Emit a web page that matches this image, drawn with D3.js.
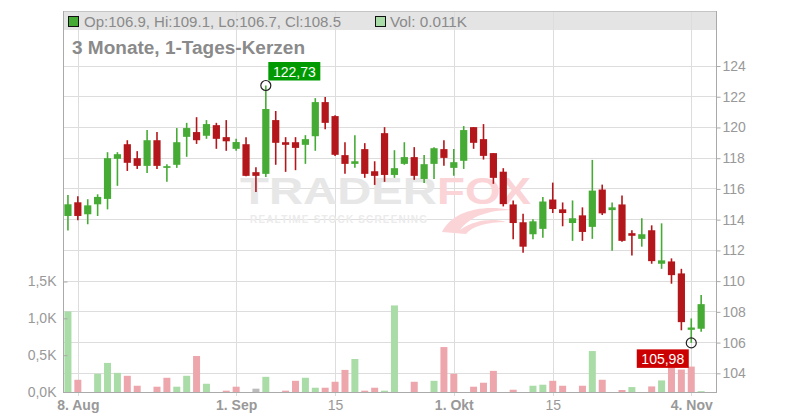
<!DOCTYPE html>
<html><head><meta charset="utf-8">
<script src="https://cdn.jsdelivr.net/npm/d3@7"></script>
<style>body{margin:0;background:#fff;} text{font-family:"Liberation Sans",Arial,sans-serif;}</style>
</head><body><svg id="c" width="800" height="420"></svg>
<script>
const opens  = [114.24,115.13,114.35,115.0,115.35,117.96,118.91,118.0,117.5,119.17,117.37,117.57,119.39,119.7,119.46,120.15,119.37,118.61,118.91,117.09,116.98,120.48,119.04,119.04,118.87,119.43,121.65,120.74,118.2,117.63,118.59,117.15,119.63,116.91,117.63,118.07,116.65,117.63,118.59,117.37,117.83,120.02,119.24,118.33,117.12,114.99,113.83,113.05,113.4,115.31,114.67,113.78,114.28,113.53,115.96,114.62,114.99,113.12,112.75,113.31,111.13,111.28,110.5,106.83,106.9];
const highs  = [115.6,115.52,115.33,115.65,118.39,118.39,119.17,118.46,119.83,119.7,117.61,119.96,120.3,120.67,120.48,120.3,120.48,119.26,119.37,117.41,122.73,121.07,119.37,119.37,119.5,121.91,121.98,120.8,119.04,119.5,118.98,117.8,120.02,118.52,119.04,118.72,118.2,118.72,119.17,118.59,120.09,120.02,120.22,118.33,117.35,115.25,114.39,114.02,115.48,116.41,115.12,115.25,114.8,117.89,116.28,115.12,115.57,113.31,114.09,113.63,113.76,111.48,110.8,107.57,109.1];
const lows   = [113.3,113.96,113.7,114.24,114.67,116.2,117.17,117.3,117.04,117.3,116.46,117.37,118.09,118.93,119.26,118.61,118.48,118.48,116.83,115.8,116.78,117.57,117.11,117.22,117.63,118.48,119.89,118.15,116.98,117.37,116.72,116.26,116.46,116.72,117.57,116.59,116.39,116.65,117.5,116.85,117.3,118.61,117.91,116.33,114.86,112.73,111.85,112.73,112.82,114.43,113.57,112.62,112.62,112.75,114.3,111.98,112.56,111.66,112.24,111.13,110.8,109.83,106.8,105.98,106.7];
const closes = [115.0,114.24,114.93,115.48,118.0,118.26,117.7,117.5,119.17,117.5,117.48,119.04,119.96,119.17,120.22,119.26,119.1,119.05,116.85,116.85,121.2,119.0,118.87,118.67,119.24,121.65,120.3,118.22,117.63,117.8,116.98,116.85,116.91,117.35,118.07,116.85,117.61,118.65,118.02,117.74,119.83,119.0,118.15,116.72,115.01,113.78,112.24,113.89,115.18,114.69,114.43,114.09,113.2,115.89,114.41,114.8,112.62,112.95,113.05,111.3,111.35,110.39,107.33,106.98,108.5];
const volumes = [1.094,0.166,0,0.247,0.395,0.26,0.22,0.085,0,0.072,0.193,0.072,0.22,0.489,0.112,0,0.018,0.072,0,0.045,0.206,0,0.018,0.152,0.193,0.058,0.058,0.139,0.30,0.448,0.018,0.058,0.018,1.175,0,0.139,0,0.152,0.61,0.247,0,0.072,0.126,0.287,0,0.031,0,0.085,0.099,0.152,0.085,0,0.085,0.556,0.166,0,0.027,0.067,0,0.076,0.157,0.38,0.305,0.345,0.011];
const tickIdx = [1,17,27,39,49,63];
const tickLabels = ["8. Aug","1. Sep","15","1. Okt","15","4. Nov"];
const tickBold = [true,true,false,true,false,true];
const priceTicks = [104,106,108,110,112,114,116,118,120,122,124];
const volTicks = [0,0.5,1.0,1.5];
const volTickLabels = ["0,0K","0,5K","1,0K","1,5K"];
const title = "3 Monate, 1-Tages-Kerzen";

const svg = d3.select("#c");
const L = 63, R = 716, T = 11, B = 392;
const x = d3.scaleLinear().domain([-0.5, 65.5]).range([L, R]);
const y = d3.scaleLinear().domain([104, 124]).range([373.3, 66]);
const yv = d3.scaleLinear().domain([0, 1.5]).range([B, 281.5]);
const GREEN = "#46ab35", RED = "#b3171b";
const VGREEN = "#aadca8", VRED = "#eea6ad", VGREY = "#bbbbbb";
const grid = "#dddddd", axisC = "#aaaaaa", txtC = "#999999";

// header background
svg.append("rect").attr("x", L).attr("y", T).attr("width", R - L).attr("height", 19).attr("fill", "#e4e4e4");

// grid
svg.append("g").selectAll("line").data(priceTicks).join("line")
  .attr("x1", L).attr("x2", R).attr("y1", d => y(d)).attr("y2", d => y(d))
  .attr("stroke", grid).attr("stroke-width", 1).attr("shape-rendering", "crispEdges");
svg.append("g").selectAll("line").data(tickIdx).join("line")
  .attr("x1", d => Math.round(x(d)) + 0.5).attr("x2", d => Math.round(x(d)) + 0.5)
  .attr("y1", T).attr("y2", B + 4)
  .attr("stroke", grid).attr("stroke-width", 1);

// watermark
const wm = svg.append("g");
wm.append("text").attr("x", 240).attr("y", 204).text("TRADER")
  .attr("font-size", 37).attr("font-weight", "bold").attr("fill", "#e7e7e7")
  .attr("textLength", 197).attr("lengthAdjust", "spacingAndGlyphs");
wm.append("text").attr("x", 437).attr("y", 204).text("FOX")
  .attr("font-size", 37).attr("font-weight", "bold").attr("fill", "#fbd4d7")
  .attr("textLength", 94).attr("lengthAdjust", "spacingAndGlyphs");
wm.append("text").attr("x", 250).attr("y", 223).text("REALTIME STOCK SCREENING")
  .attr("font-size", 10).attr("font-weight", "bold").attr("fill", "#ebebeb")
  .attr("textLength", 177).attr("lengthAdjust", "spacing");
wm.append("path").attr("d", "M442,232 C452,212 480,204 512,210 C490,210 470,216 460,230 C474,220 492,218 506,222 C488,222 472,226 466,234 Z")
  .attr("fill", "#fbd4d7");

// volume bars
const vg = svg.append("g");
vg.selectAll("rect").data(volumes).join("rect")
  .attr("x", (d, i) => x(i) - 3.5).attr("width", 7)
  .attr("y", d => yv(d)).attr("height", d => B - yv(d))
  .attr("fill", (d, i) => i === 0 ? VGREEN : (closes[i] > closes[i - 1] ? VGREEN : closes[i] < closes[i - 1] ? VRED : VGREY));

// candles
const cg = svg.append("g");
const idx = d3.range(closes.length);
cg.selectAll("line").data(idx).join("line")
  .attr("x1", i => x(i)).attr("x2", i => x(i))
  .attr("y1", i => y(highs[i])).attr("y2", i => y(lows[i]))
  .attr("stroke", i => closes[i] >= opens[i] ? GREEN : RED).attr("stroke-width", 1.6);
cg.selectAll("rect").data(idx).join("rect")
  .attr("x", i => x(i) - 3.6).attr("width", 7.2)
  .attr("y", i => y(Math.max(opens[i], closes[i])))
  .attr("height", i => Math.max(1.5, Math.abs(y(opens[i]) - y(closes[i]))))
  .attr("fill", i => closes[i] >= opens[i] ? GREEN : RED);

// frame / axes
svg.append("line").attr("x1", L).attr("x2", R).attr("y1", T + 0.5).attr("y2", T + 0.5).attr("stroke", "#c4c4c4");
svg.append("line").attr("x1", L + 0.5).attr("x2", L + 0.5).attr("y1", T).attr("y2", B).attr("stroke", axisC);
svg.append("line").attr("x1", R + 0.5).attr("x2", R + 0.5).attr("y1", T).attr("y2", B).attr("stroke", axisC);
svg.append("line").attr("x1", L).attr("x2", R + 1).attr("y1", B + 0.5).attr("y2", B + 0.5).attr("stroke", axisC);

// right price axis
const ra = svg.append("g").attr("transform", `translate(${R + 0.5},0)`)
  .call(d3.axisRight(y).tickValues(priceTicks).tickSize(4).tickPadding(2).tickFormat(d3.format("d")));
ra.select(".domain").remove();
ra.selectAll("line").attr("stroke", axisC);
ra.selectAll("text").attr("fill", txtC).attr("font-size", 14).attr("font-family", "Liberation Sans, Arial, sans-serif");

// left volume axis
const la = svg.append("g").attr("transform", `translate(${L + 0.5},0)`)
  .call(d3.axisLeft(yv).tickValues(volTicks).tickSize(-4).tickPadding(7).tickFormat((d, i) => volTickLabels[i]));
la.select(".domain").remove();
la.selectAll("line").attr("stroke", axisC);
la.selectAll("text").attr("fill", txtC).attr("font-size", 14).attr("font-family", "Liberation Sans, Arial, sans-serif");

// x axis
const xa = svg.append("g").attr("transform", `translate(0,${B})`)
  .call(d3.axisBottom(x).tickValues(tickIdx).tickSize(0).tickPadding(8).tickFormat((d, i) => tickLabels[i]));
xa.select(".domain").remove();
xa.selectAll("text").attr("fill", txtC).attr("font-size", 14)
  .attr("font-weight", (d, i) => tickBold[i] ? "bold" : "normal")
  .attr("font-family", "Liberation Sans, Arial, sans-serif");

// title
svg.append("text").attr("x", 72).attr("y", 54).text(title)
  .attr("font-size", 18).attr("font-weight", "bold").attr("fill", "#8a8a8a")
  .attr("textLength", 233).attr("lengthAdjust", "spacingAndGlyphs");

// header legend
const n = closes.length - 1;
const f1 = d3.format(".1f");
svg.append("rect").attr("x", 68.5).attr("y", 16.5).attr("width", 10).attr("height", 10)
  .attr("fill", GREEN).attr("stroke", "#111");
svg.append("text").attr("x", 84).attr("y", 26.5)
  .text(`Op:${f1(opens[n])}, Hi:${f1(highs[n])}, Lo:${f1(lows[n])}, Cl:${f1(closes[n])}`)
  .attr("font-size", 14.5).attr("fill", "#8a8a8a")
  .attr("textLength", 257).attr("lengthAdjust", "spacingAndGlyphs");
svg.append("rect").attr("x", 375.5).attr("y", 16.5).attr("width", 10).attr("height", 10)
  .attr("fill", VGREEN).attr("stroke", "#111");
svg.append("text").attr("x", 390).attr("y", 26.5)
  .text(`Vol: ${d3.format(".3f")(volumes[n])}K`)
  .attr("font-size", 14.5).attr("fill", "#8a8a8a")
  .attr("textLength", 77).attr("lengthAdjust", "spacingAndGlyphs");

// high / low markers
const hiI = d3.maxIndex(highs), loI = d3.minIndex(lows);
const fmtC = v => d3.format(".2f")(v).replace(".", ",");
const hx = x(hiI), hy = y(highs[hiI]);
svg.append("circle").attr("cx", hx).attr("cy", hy).attr("r", 5).attr("fill", "none").attr("stroke", "#222").attr("stroke-width", 1.2);
svg.append("rect").attr("x", hx + 2.5).attr("y", hy - 23.5).attr("width", 52).attr("height", 18.5).attr("fill", "#029a02");
svg.append("text").attr("x", hx + 28.5).attr("y", hy - 9).attr("text-anchor", "middle")
  .text(fmtC(highs[hiI])).attr("font-size", 14).attr("fill", "#fff");
const lx = x(loI), ly = y(lows[loI]);
svg.append("circle").attr("cx", lx).attr("cy", ly).attr("r", 5).attr("fill", "none").attr("stroke", "#222").attr("stroke-width", 1.2);
svg.append("rect").attr("x", lx - 54.5).attr("y", ly + 6.5).attr("width", 52).attr("height", 18.5).attr("fill", "#cc0000");
svg.append("text").attr("x", lx - 28.5).attr("y", ly + 21).attr("text-anchor", "middle")
  .text(fmtC(lows[loI])).attr("font-size", 14).attr("fill", "#fff");
</script></body></html>
